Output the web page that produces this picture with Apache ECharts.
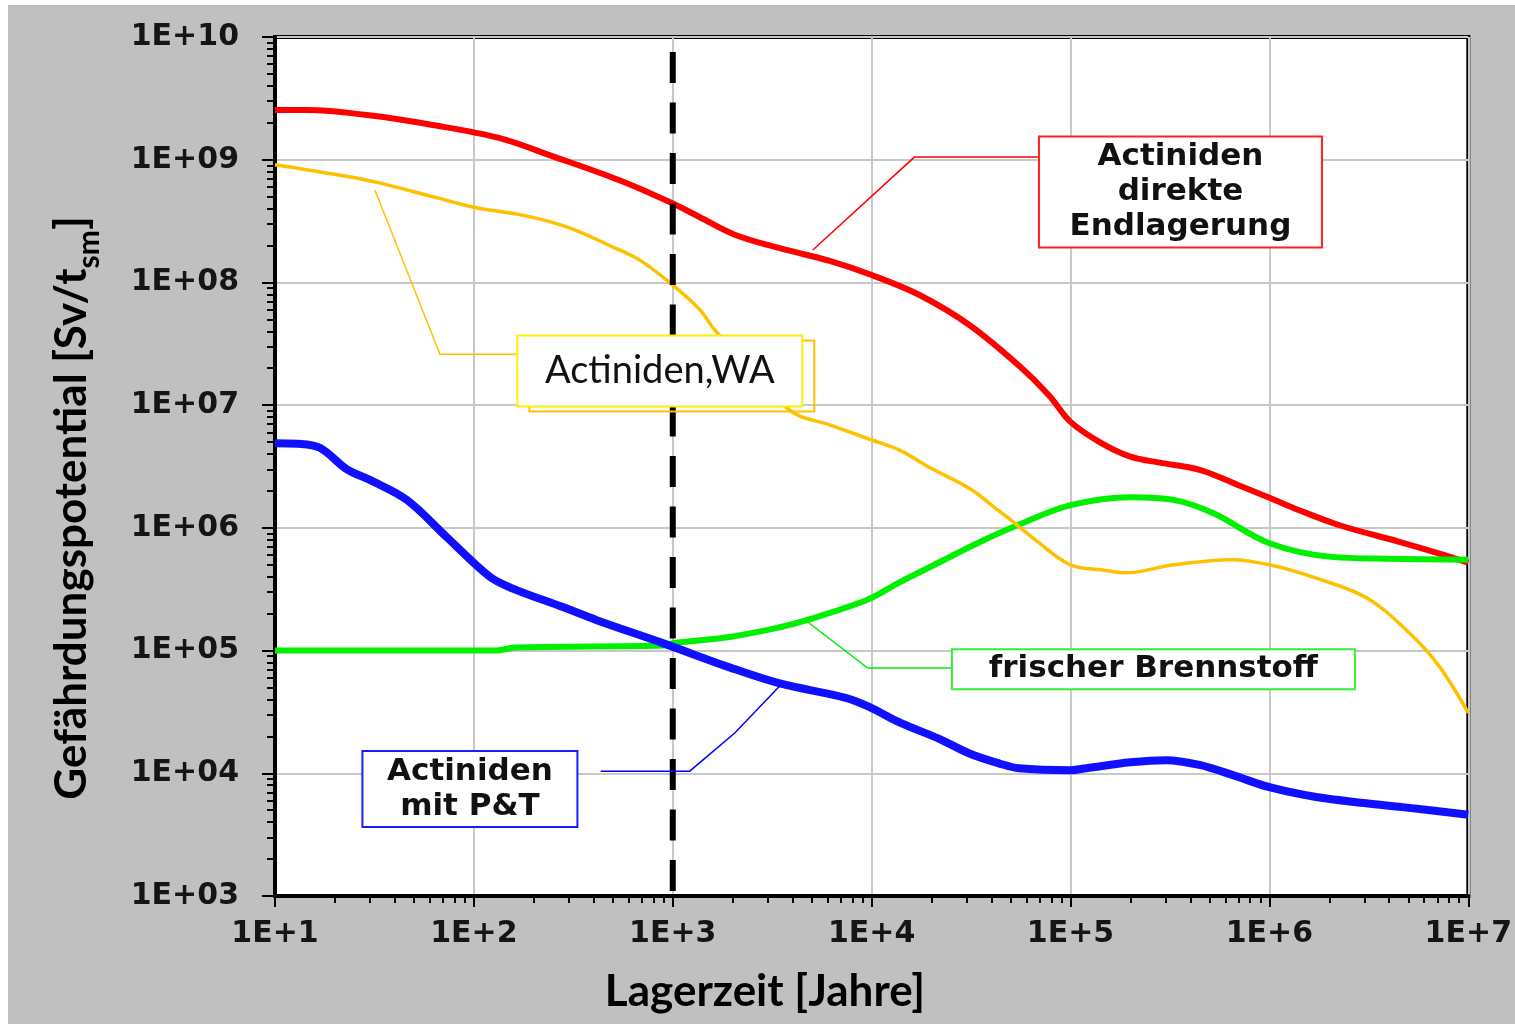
<!DOCTYPE html>
<html>
<head>
<meta charset="utf-8">
<script src="https://cdn.jsdelivr.net/npm/echarts@6/dist/echarts.min.js"></script>
<style>
  html, body { margin: 0; padding: 0; background: #ffffff; }
  #chart { width: 1515px; height: 1024px; }
</style>
</head>
<body>
<div id="chart"></div>
<script>
// Storage time in years (x) and radiotoxic hazard potential in Sv per tonne heavy metal (y).

// Actiniden, direkte Endlagerung
const directYears  = [10, 14.5, 29, 62, 135, 240, 540, 1000, 1370, 2050, 3450, 6150, 1e4, 1.74e4, 3.1e4, 5.5e4, 7.8e4, 1e5, 1.4e5, 2e5, 2.8e5, 4.5e5, 7.1e5, 1e6, 1.4e6, 2.25e6, 4.5e6, 7.1e6, 1e7];
const directValues = [2.54e9, 2.54e9, 2.31e9, 1.92e9, 1.5e9, 1.09e9, 6.8e8, 4.4e8, 3.4e8, 2.45e8, 1.9e8, 1.5e8, 1.15e8, 7.9e7, 4.5e7, 2.1e7, 1.2e7, 7.3e6, 5.0e6, 3.8e6, 3.4e6, 2.96e6, 2.2e6, 1.76e6, 1.4e6, 1.05e6, 7.7e5, 6.2e5, 5.2e5];

// Actiniden, WA
const reprocYears  = [10, 20, 31.8, 62, 100, 180, 300, 480, 683, 1000, 1367, 1626, 3870, 6150, 1e4, 1.38e4, 1.98e4, 3.1e4, 4.3e4, 5.4e4, 6.7e4, 1e5, 1.5e5, 1.9e5, 3.3e5, 6.5e5, 1e6, 1.63e6, 3.07e6, 5.06e6, 7.2e6, 1e7];
const reprocValues = [9.1e8, 7.6e8, 6.6e8, 5.0e8, 4.1e8, 3.5e8, 2.8e8, 2.0e8, 1.52e8, 9.5e7, 6.0e7, 4.1e7, 9.1e6, 6.9e6, 5.2e6, 4.3e6, 3.07e6, 2.1e6, 1.4e6, 1.05e6, 7.9e5, 5.0e5, 4.5e5, 4.3e5, 5.0e5, 5.5e5, 5.0e5, 4.0e5, 2.7e5, 1.39e5, 7.3e4, 3.1e4];

// frischer Brennstoff
const freshYears  = [10, 130, 160, 900, 1000, 1930, 3450, 4710, 9440, 1.38e4, 2.17e4, 3.4e4, 5.4e4, 1e5, 2e5, 3.3e5, 5.2e5, 1e6, 2.05e6, 4e6, 1e7];
const freshValues = [1e5, 1e5, 1.06e5, 1.1e5, 1.15e5, 1.29e5, 1.55e5, 1.77e5, 2.58e5, 3.6e5, 5.2e5, 7.5e5, 1.05e6, 1.53e6, 1.78e6, 1.69e6, 1.32e6, 7.5e5, 5.8e5, 5.6e5, 5.5e5];

// Actiniden mit P&T
const ptYears  = [10, 13, 16.8, 23, 30, 46, 73, 120, 157, 280, 415, 891, 1930, 3450, 7480, 1e4, 1.38e4, 2.2e4, 3.1e4, 4.4e4, 5.5e4, 1e5, 1.2e5, 2e5, 3.03e5, 4.45e5, 6.5e5, 1e6, 1.72e6, 3.07e6, 4.66e6, 1e7];
const ptValues = [4.9e6, 4.85e6, 4.5e6, 3.0e6, 2.46e6, 1.69e6, 8.4e5, 4.0e5, 3.2e5, 2.26e5, 1.77e5, 1.15e5, 7.3e4, 5.4e4, 4.1e4, 3.4e4, 2.6e4, 1.9e4, 1.45e4, 1.2e4, 1.1e4, 1.06e4, 1.1e4, 1.23e4, 1.28e4, 1.17e4, 9.7e3, 7.7e3, 6.4e3, 5.7e3, 5.3e3, 4.6e3];

// Reference line at 1000 years
const markerYear = 1000;
const markerSpan = [7.55e9, 1.06e3];

// Axis ticks and labels
const xTickValues = [1e1, 1e2, 1e3, 1e4, 1e5, 1e6, 1e7];
const xTickLabels = ['1E+1', '1E+2', '1E+3', '1E+4', '1E+5', '1E+6', '1E+7'];
const yTickValues = [1e3, 1e4, 1e5, 1e6, 1e7, 1e8, 1e9, 1e10];
const yTickLabels = ['1E+03', '1E+04', '1E+05', '1E+06', '1E+07', '1E+08', '1E+09', '1E+10'];

const xTitle = 'Lagerzeit [Jahre]';
const yTitle = 'Gefährdungspotential [Sv/t';
const yTitleSub = 'sm';

function zip(xs, ys) { return xs.map((x, i) => [x, ys[i]]); }
function minorTicks(values) {
  const out = [];
  for (let i = 0; i < values.length - 1; i++) {
    for (let m = 2; m <= 9; m++) out.push(values[i] * m);
  }
  return out;
}
function labelFor(values, labels) {
  return v => {
    let best = 0, bestD = Infinity;
    values.forEach((t, i) => {
      const d = Math.abs(Math.log10(v) - Math.log10(t));
      if (d < bestD) { bestD = d; best = i; }
    });
    return labels[best];
  };
}

const tickFont = { fontFamily: '"DejaVu Sans"', fontWeight: 'bold', fontSize: 30, color: '#151515' };

const chart = echarts.init(document.getElementById('chart'), null, { renderer: 'canvas', width: 1515, height: 1024 });

const baseLog = (extra) => Object.assign({
  type: 'log',
  logBase: 10,
  axisPointer: { show: false }
}, extra);

chart.setOption({
  animation: false,
  backgroundColor: '#c0c0c0',
  grid: {
    left: 275, right: 46, top: 37, bottom: 128,
    show: true, backgroundColor: '#ffffff', borderColor: '#000', borderWidth: 4
  },
  xAxis: [
    baseLog({
      position: 'bottom', min: 10, max: 1e7,
      axisLine: { show: true, lineStyle: { color: '#000', width: 4 } },
      axisTick: { show: true, length: 11, lineStyle: { color: '#000', width: 2 }, customValues: xTickValues },
      axisLabel: Object.assign({ margin: 23, customValues: xTickValues, formatter: labelFor(xTickValues, xTickLabels) }, tickFont),
      splitLine: { show: true, lineStyle: { color: '#c8c8c8', width: 2 } },
      minorTick: { show: false }, minorSplitLine: { show: false }
    }),
    baseLog({
      position: 'bottom', min: 10, max: 1e7,
      axisLine: { show: false },
      axisTick: { show: true, length: 7, lineStyle: { color: '#000', width: 2 }, customValues: minorTicks(xTickValues) },
      axisLabel: { show: false },
      splitLine: { show: false }
    })
  ],
  yAxis: [
    baseLog({
      position: 'left', min: 1e3, max: 1e10,
      axisLine: { show: true, lineStyle: { color: '#000', width: 4 } },
      axisTick: { show: true, length: 13, lineStyle: { color: '#000', width: 2 }, customValues: yTickValues },
      axisLabel: Object.assign({ margin: 36, customValues: yTickValues, formatter: labelFor(yTickValues, yTickLabels) }, tickFont),
      splitLine: { show: true, lineStyle: { color: '#c8c8c8', width: 2 } }
    }),
    baseLog({
      position: 'left', min: 1e3, max: 1e10,
      axisLine: { show: false },
      axisTick: { show: true, length: 8, lineStyle: { color: '#000', width: 2 }, customValues: minorTicks(yTickValues) },
      axisLabel: { show: false },
      splitLine: { show: false }
    })
  ],
  series: [
    {
      name: 'Actiniden direkte Endlagerung', type: 'line', data: zip(directYears, directValues),
      symbol: 'none', smooth: 0.35, lineStyle: { color: '#ff0000', width: 6 }, z: 3
    },
    {
      name: 'frischer Brennstoff', type: 'line', data: zip(freshYears, freshValues),
      symbol: 'none', smooth: 0.35, lineStyle: { color: '#00f000', width: 6 }, z: 4
    },
    {
      name: 'Actiniden,WA', type: 'line', data: zip(reprocYears, reprocValues),
      symbol: 'none', smooth: 0.35, lineStyle: { color: '#ffc000', width: 3.5 }, z: 5
    },
    {
      name: 'Actiniden mit P&T', type: 'line', data: zip(ptYears, ptValues),
      symbol: 'none', smooth: 0.35, lineStyle: { color: '#1010ff', width: 8 }, z: 6
    },
    {
      name: 'marker', type: 'line', data: markerSpan.map(v => [markerYear, v]),
      symbol: 'none', lineStyle: { color: '#000', width: 6, type: [31, 19.5], cap: 'butt' }, z: 7
    }
  ]
});

// Callout boxes with leader lines, positioned in data space
const callouts = [
  {
    text: 'Actiniden\ndirekte\nEndlagerung', center: [3.57e5, 5.46e8], size: [283, 111],
    border: '#ff2020', leaderColor: '#ff0000',
    leader: [[6.98e4, 1.05e9], [1.64e4, 1.05e9], [5060, 1.84e8]],
    font: 'bold 31px "DejaVu Sans"', lineHeight: 35
  },
  {
    text: 'Actiniden,WA', center: [861, 1.9e7], size: [285, 71],
    border: '#ffee00', shadow: { color: '#ffc000', dx: 12, dy: 5 }, leaderColor: '#ffc000',
    leader: [[166, 2.6e7], [67.5, 2.6e7], [31.8, 5.66e8]],
    font: '38px Lato', lineHeight: 42
  },
  {
    text: 'frischer Brennstoff', center: [2.61e5, 7.06e4], size: [403, 40],
    border: '#33ee33', leaderColor: '#00ee00',
    leader: [[2.55e4, 7.2e4], [9550, 7.2e4], [4770, 1.71e5]],
    font: 'bold 31px "DejaVu Sans"', lineHeight: 34
  },
  {
    text: 'Actiniden\nmit P&T', center: [95.5, 7.43e3], size: [215, 76],
    border: '#1a1aff', leaderColor: '#0000ff',
    leader: [[434, 1.04e4], [1217, 1.04e4], [2050, 2.13e4], [3450, 5.14e4]],
    font: 'bold 31px "DejaVu Sans"', lineHeight: 35
  }
];

function toPx(p) { return chart.convertToPixel({ gridIndex: 0 }, p); }

const graphics = [
  { type: 'rect', shape: { x: 0, y: 0, width: 1515, height: 5 }, style: { fill: '#ffffff' }, z: 1 },
  { type: 'rect', shape: { x: 0, y: 0, width: 8, height: 1024 }, style: { fill: '#ffffff' }, z: 1 }
];

callouts.forEach(c => {
  const [cx, cy] = toPx(c.center);
  const [w, h] = c.size;
  graphics.push({
    type: 'polyline', shape: { points: c.leader.map(toPx) },
    style: { stroke: c.leaderColor, lineWidth: 1.5, fill: null }, z: 50
  });
  if (c.shadow) {
    graphics.push({
      type: 'rect', shape: { x: cx - w / 2 + c.shadow.dx, y: cy - h / 2 + c.shadow.dy, width: w, height: h },
      style: { fill: 'none', stroke: c.shadow.color, lineWidth: 2 }, z: 51
    });
  }
  graphics.push({
    type: 'rect', shape: { x: cx - w / 2, y: cy - h / 2, width: w, height: h },
    style: { fill: '#ffffff', stroke: c.border, lineWidth: 2 }, z: 52
  });
  graphics.push({
    type: 'text', x: cx, y: cy, z: 53,
    style: {
      text: c.text, font: c.font, fill: '#111', lineHeight: c.lineHeight,
      align: 'center', verticalAlign: 'middle', textAlign: 'center', textVerticalAlign: 'middle'
    }
  });
});

// Axis titles
graphics.push({
  type: 'text', x: 765, y: 992, z: 60,
  style: {
    text: xTitle, font: 'bold 44px Lato', fill: '#000',
    align: 'center', verticalAlign: 'middle', textAlign: 'center', textVerticalAlign: 'middle'
  }
});
graphics.push({
  type: 'text', x: 72, y: 508, rotation: Math.PI / 2, z: 60,
  style: {
    text: '{a|' + yTitle + '}{b|' + yTitleSub + '}{a|]}',
    align: 'center', verticalAlign: 'middle', textAlign: 'center', textVerticalAlign: 'middle',
    fill: '#000',
    rich: {
      a: { fontFamily: 'Lato', fontWeight: 'bold', fontSize: 44, lineHeight: 50, verticalAlign: 'middle', fill: '#000' },
      b: { fontFamily: 'Lato', fontWeight: 'bold', fontSize: 30, lineHeight: 64, verticalAlign: 'bottom', fill: '#000' }
    }
  }
});

chart.setOption({ graphic: graphics });
</script>
</body>
</html>
